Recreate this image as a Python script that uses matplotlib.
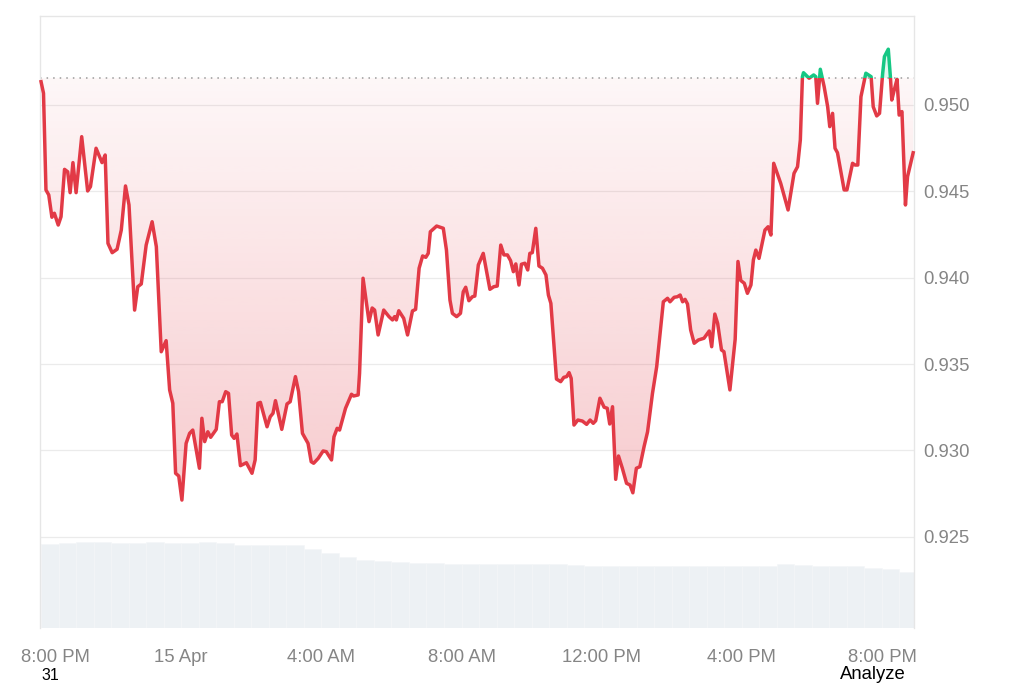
import numpy as np
import matplotlib.pyplot as plt
import matplotlib.transforms as mtransforms
from matplotlib.patches import Rectangle

plt.rcParams['font.family'] = ['Liberation Sans', 'DejaVu Sans']

# hours relative to 15 Apr 00:00
hours = [
    -4.00, -3.93, -3.86, -3.78, -3.69, -3.62, -3.51, -3.43, -3.33, -3.24,
    -3.17, -3.09, -3.00, -2.84, -2.67, -2.59, -2.43, -2.26, -2.17, -2.09,
    -1.97, -1.83, -1.71, -1.59, -1.49, -1.33, -1.24, -1.14, -1.00, -0.83,
    -0.71, -0.57, -0.43, -0.33, -0.24, -0.16, -0.07, 0.02, 0.14, 0.24,
    0.33, 0.52, 0.59, 0.67,
    0.76, 0.84, 1.00, 1.09, 1.17, 1.27, 1.35, 1.44, 1.51, 1.59,
    1.69, 1.86, 2.02, 2.11, 2.19, 2.26, 2.45, 2.54, 2.62, 2.69,
    2.87, 3.02, 3.11, 3.26, 3.35, 3.46, 3.62, 3.71, 3.78, 3.91,
    4.05, 4.14, 4.29, 4.36, 4.45, 4.52, 4.69, 4.86, 4.92, 5.05,
    5.09, 5.19, 5.36, 5.45,
    5.52, 5.62, 5.78, 5.93, 6.03, 6.09, 6.14, 6.21, 6.35, 6.46,
    6.60, 6.69, 6.79, 6.89, 6.98, 7.05, 7.11, 7.29, 7.48, 7.57,
    7.67, 7.74, 7.86, 7.97, 8.05, 8.12, 8.21, 8.31, 8.38, 8.48,
    8.62, 8.81, 8.92, 9.02, 9.12, 9.21, 9.31, 9.40, 9.48, 9.55,
    9.64, 9.71, 9.81, 9.89, 9.95, 10.02, 10.12, 10.21, 10.31, 10.41,
    10.48, 10.55, 10.71,
    10.83, 10.92, 11.00, 11.07, 11.13, 11.21, 11.32, 11.45, 11.57, 11.67,
    11.76, 11.83, 11.95, 12.07, 12.16, 12.23, 12.31, 12.40, 12.48, 12.59,
    12.71, 12.81, 12.89, 12.99, 13.09, 13.21, 13.31, 13.45, 13.57, 13.76,
    13.88, 13.95, 14.07, 14.16, 14.24, 14.31, 14.38, 14.45, 14.54, 14.64,
    14.76, 14.92, 15.07, 15.14, 15.23, 15.31, 15.42, 15.49, 15.66, 15.81,
    15.89,
    15.97, 16.07, 16.16, 16.26, 16.33, 16.40, 16.49, 16.66, 16.75, 16.83,
    16.91, 17.11, 17.32, 17.49, 17.59, 17.67, 17.73, 17.76, 17.92, 18.05,
    18.11, 18.16, 18.24, 18.35, 18.45, 18.51, 18.59, 18.66, 18.73, 18.92,
    19.00, 19.16, 19.23, 19.31, 19.40, 19.54, 19.69, 19.75, 19.85, 19.93,
    20.02, 20.07, 20.18, 20.24, 20.28, 20.35, 20.43, 20.49, 20.57, 20.67,
    20.73, 20.89,
]

prices = [
    0.95133, 0.95066, 0.94507, 0.94478, 0.94349, 0.94372, 0.94304, 0.94352, 0.94626, 0.94612,
    0.94491, 0.94665, 0.94491, 0.94815, 0.94501, 0.94526, 0.94748, 0.94665, 0.94709, 0.94198,
    0.94144, 0.94164, 0.94275, 0.94530, 0.94420, 0.93812, 0.93947, 0.93963, 0.94188, 0.94323,
    0.94179, 0.93571, 0.93635, 0.93350, 0.93273, 0.92868, 0.92852, 0.92713, 0.93041, 0.93099,
    0.93118, 0.92897, 0.93186, 0.93051,
    0.93108, 0.93076, 0.93122, 0.93282, 0.93282, 0.93340, 0.93330, 0.93089, 0.93070, 0.93095,
    0.92912, 0.92929, 0.92868, 0.92945, 0.93273, 0.93278, 0.93137, 0.93195, 0.93215, 0.93288,
    0.93122, 0.93269, 0.93282, 0.93427, 0.93340, 0.93099, 0.93041, 0.92935, 0.92926, 0.92954,
    0.92997, 0.92993, 0.92945, 0.93079, 0.93128, 0.93118, 0.93244, 0.93325, 0.93315, 0.93321,
    0.93446, 0.93996, 0.93745, 0.93824,
    0.93812, 0.93668, 0.93812, 0.93774, 0.93755, 0.93774, 0.93755, 0.93808, 0.93764, 0.93668,
    0.93807, 0.93816, 0.94054, 0.94125, 0.94117, 0.94140, 0.94265, 0.94298, 0.94285, 0.94159,
    0.93870, 0.93793, 0.93774, 0.93793, 0.93918, 0.93944, 0.93866, 0.93889, 0.93893, 0.94073,
    0.94140, 0.93932, 0.93947, 0.93951, 0.94188, 0.94131, 0.94131, 0.94098, 0.94034, 0.94079,
    0.93957, 0.94077, 0.94083, 0.94044, 0.94140, 0.94144, 0.94285, 0.94067, 0.94054, 0.94015,
    0.93899, 0.93851, 0.93413,
    0.93398, 0.93423, 0.93427, 0.93450, 0.93417, 0.93147, 0.93176, 0.93170, 0.93151, 0.93176,
    0.93157, 0.93172, 0.93302, 0.93250, 0.93244, 0.93153, 0.93253, 0.92833, 0.92968, 0.92897,
    0.92810, 0.92800, 0.92755, 0.92897, 0.92906, 0.93022, 0.93108, 0.93330, 0.93484, 0.93860,
    0.93880, 0.93860, 0.93886, 0.93889, 0.93899, 0.93860, 0.93874, 0.93847, 0.93697, 0.93620,
    0.93639, 0.93649, 0.93691, 0.93600, 0.93789, 0.93735, 0.93581, 0.93571, 0.93350, 0.93643,
    0.94093,
    0.93983, 0.93967, 0.93909, 0.93957, 0.94102, 0.94159, 0.94111, 0.94275, 0.94294, 0.94246,
    0.94661, 0.94545, 0.94391, 0.94603, 0.94641, 0.94796, 0.95162, 0.95185, 0.95153, 0.95172,
    0.95162, 0.95008, 0.95205, 0.95104, 0.94988, 0.94873, 0.94950, 0.94748, 0.94722, 0.94507,
    0.94507, 0.94661, 0.94651, 0.94651, 0.95046, 0.95182, 0.95162, 0.94988, 0.94935, 0.94950,
    0.95182, 0.95278, 0.95321, 0.95162, 0.95027, 0.95085, 0.95147, 0.94940, 0.94960, 0.94420,
    0.94584, 0.94722,
]

open_price = 0.95155

# volume bars, one per half hour
vol_hours = np.arange(-4.0, 20.6, 0.5)
volume = [
    1.000, 1.012, 1.020, 1.020, 1.018, 1.018, 1.020, 1.014, 1.018, 1.020,
    1.012, 0.994, 0.992, 0.992, 0.988, 0.940, 0.893, 0.845, 0.815, 0.801,
    0.792, 0.774, 0.770, 0.768, 0.768, 0.768, 0.762, 0.762, 0.762, 0.762,
    0.756, 0.744, 0.742, 0.742, 0.742, 0.744, 0.742, 0.742, 0.742, 0.742,
    0.742, 0.744, 0.760, 0.756, 0.742, 0.742, 0.738, 0.720, 0.708, 0.673,
]

tick_hours = [-4, 0, 4, 8, 12, 16, 20]
tick_labels = ['8:00 PM', '15 Apr', '4:00 AM', '8:00 AM', '12:00 PM', '4:00 PM', '8:00 PM']
price_ticks = [0.925, 0.930, 0.935, 0.940, 0.945, 0.950]

red = '#e23a46'
green = '#16c784'
label_gray = '#858585'
x0, x1 = -4.03, 20.914
y0, y1 = 0.91973, 0.95513

fig = plt.figure(figsize=(10.24, 6.83), dpi=100)
ax = fig.add_axes([40 / 1024, 55 / 683, 874 / 1024, 612 / 683])

# volume on its own axis, behind the price
ax2 = ax.twinx()
ax2.bar(vol_hours, volume, width=0.5, align='edge', color='#edf1f4',
        edgecolor='#f4f6f8', linewidth=0.4)
ax2.set_ylim(0, 7.29)
ax2.set_yticks([])
for s in ax2.spines.values():
    s.set_visible(False)
ax.set_zorder(ax2.get_zorder() + 1)
ax.patch.set_visible(False)

p = np.array(prices)
h = np.array(hours)

# red gradient area between the line and the opening price
below = ax.fill_between(h, np.minimum(p, open_price), open_price,
                        facecolor='none', edgecolor='none')
rgba = np.zeros((256, 1, 4))
rgba[..., :3] = (226 / 255, 58 / 255, 70 / 255)
rgba[:, 0, 3] = np.linspace(0.04, 0.27, 256)
im = ax.imshow(rgba, extent=[x0, x1, 0.9265, open_price], origin='upper',
               aspect='auto', zorder=1, interpolation='bilinear')
im.set_clip_path(below.get_paths()[0], transform=ax.transData)

ax.fill_between(h, open_price, np.maximum(p, open_price),
                facecolor=green, alpha=0.12, edgecolor='none', zorder=1)

# price line: red below the opening price, green above
line_r, = ax.plot(h, p, color=red, lw=2.5, zorder=3, solid_joinstyle='round')
line_r.set_clip_path(Rectangle((-10, open_price - 1), 40, 1, transform=ax.transData))
line_g, = ax.plot(h, p, color=green, lw=2.5, zorder=3, solid_joinstyle='round')
line_g.set_clip_path(Rectangle((-10, open_price), 40, 1, transform=ax.transData))

ax.axhline(open_price, color='#9a9a9a', lw=1.1, ls=(0, (1, 3.3)), zorder=2)

ax.set_xlim(x0, x1)
ax.set_ylim(y0, y1)

ax.yaxis.tick_right()
ax.set_yticks(price_ticks)
ax.set_yticklabels([f'{v:.3f}' for v in price_ticks])
ax.set_xticks(tick_hours)
ax.set_xticklabels(tick_labels)
ax.tick_params(axis='y', length=0, pad=6.5, labelsize=13.3, labelcolor=label_gray)
ax.tick_params(axis='x', length=0, pad=15, labelsize=13.3, labelcolor=label_gray)
ax.grid(axis='y', color='#ebebeb', lw=0.9)
ax.set_axisbelow(True)

first = ax.get_xticklabels()[0]
first.set_transform(first.get_transform() +
                    mtransforms.ScaledTranslation(0.14, 0, fig.dpi_scale_trans))

for side in ['top', 'left', 'right']:
    ax.spines[side].set_color('#e6e6e6')
    ax.spines[side].set_linewidth(1)
ax.spines['bottom'].set_visible(False)

fig.text(50 / 1024, 3.5 / 683, '31', ha='center', va='baseline', fontsize=11.5, color='black')
fig.text(873 / 1024, 4 / 683, 'Analyze', ha='center', va='baseline', fontsize=13.3, color='black')

fig.savefig('out.png', dpi=100)
